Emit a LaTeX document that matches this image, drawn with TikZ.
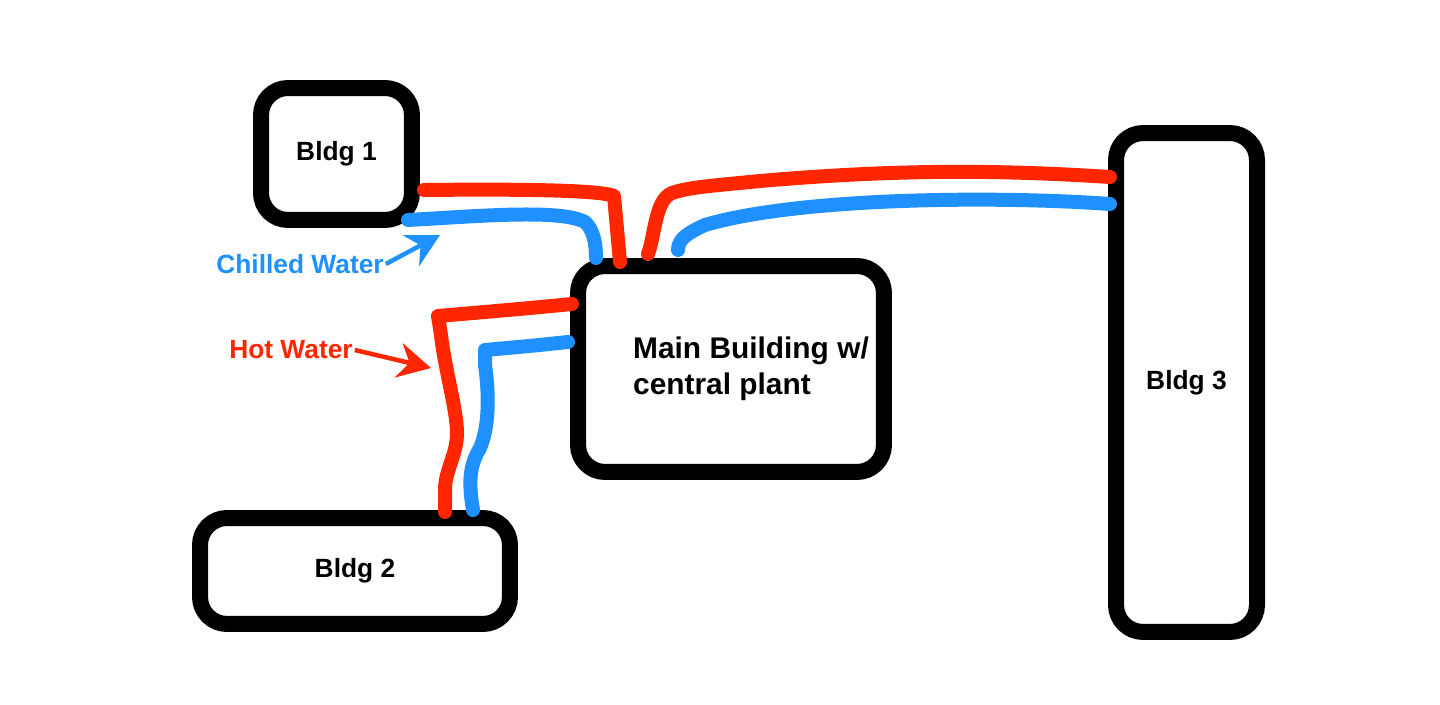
\documentclass[tikz,border=0pt]{standalone}
\usepackage{fontspec}
\setmainfont{Liberation Sans}
\usetikzlibrary{arrows.meta,calc}
\definecolor{hotred}{RGB}{255,38,0}
\definecolor{coldblue}{RGB}{31,144,255}

\begin{document}
\begin{tikzpicture}[
    x=0.02cm, y=-0.02cm,
    bldg/.style={rectangle, draw=black, fill=white, line width=0.32cm, rounded corners=0.54cm, align=left, font=\bfseries\fontsize{15}{18}\selectfont},
    hotpipe/.style={draw=hotred, line width=0.28cm, line cap=round, line join=round},
    coldpipe/.style={draw=coldblue, line width=0.28cm, line cap=round, line join=round},
    tag/.style={inner sep=1pt, font=\bfseries\fontsize{15}{18}\selectfont},
    pointer/.style={line width=0.09cm, -{Stealth[length=0.66cm, width=0.7cm, inset=0.22cm]}}
]
    \useasboundingbox (0,0) rectangle (1440,705);

    \node [bldg, minimum width=3.02cm, minimum height=2.64cm] (b1) at (336.5,154) {Bldg 1};
    \node [bldg, minimum width=6.2cm, minimum height=2.12cm] (b2) at (355,571) {Bldg 2};
    \node [bldg, minimum width=2.82cm, minimum height=9.98cm] (b3) at (1186.5,382.5) {Bldg 3};
    \node [bldg, minimum width=6.12cm, minimum height=4.12cm, font=\bfseries\fontsize{17}{20.5}\selectfont] (main) at (731,369) {\hspace*{0.8cm}Main Building w/\\\hspace*{0.8cm}central plant};

    \node [tag, text=coldblue] (chilled) at (300,264) {Chilled Water};
    \node [tag, text=hotred] (hot) at (291,350) {Hot Water};

    \coordinate (b1hot) at (424,190);
    \coordinate (b1cold) at (408,220);
    \coordinate (mainhot1) at (620,262);
    \coordinate (maincold1) at (596,258);
    \coordinate (mainhot3) at (648,254);
    \coordinate (maincold3) at (678,250);
    \coordinate (b3hot) at (1110,177);
    \coordinate (b3cold) at (1110,204);
    \coordinate (mainhot2) at (572,304);
    \coordinate (maincold2) at (568,342);
    \coordinate (b2hot) at (445,512);
    \coordinate (b2cold) at (473,510);
    \coordinate (coldtip) at (440,235);
    \coordinate (hottip) at (431,368);

    \draw [hotpipe] (b1hot) .. controls (520,189) and (600,190) .. (614,196) -- (mainhot1);
    \draw [coldpipe] (b1cold) .. controls (480,216) and (560,209) .. (585,222) .. controls (594,230) and (596,245) .. (maincold1);

    \draw [hotpipe] (mainhot3) .. controls (655,235) and (655,200) .. (672,193) .. controls (690,187) and (710,186) .. (760,181) .. controls (900,169) and (1000,170) .. (b3hot);
    \draw [coldpipe] (maincold3) .. controls (678,238) and (690,232) .. (705,225) .. controls (800,197) and (1000,196) .. (b3cold);

    \draw [hotpipe] (mainhot2) .. controls (520,309) .. (438,316) -- (441,335) .. controls (445,370) and (457,410) .. (457,433) .. controls (457,455) and (445,470) .. (445,490) -- (b2hot);
    \draw [coldpipe] (maincold2) .. controls (530,346) .. (485,350) -- (485,365) .. controls (490,400) and (488,430) .. (480,448) .. controls (470,465) and (468,480) .. (b2cold);

    \draw [pointer, coldblue] (chilled.east) -- (coldtip);
    \draw [pointer, hotred] (hot.east) -- (hottip);
\end{tikzpicture}
\end{document}
